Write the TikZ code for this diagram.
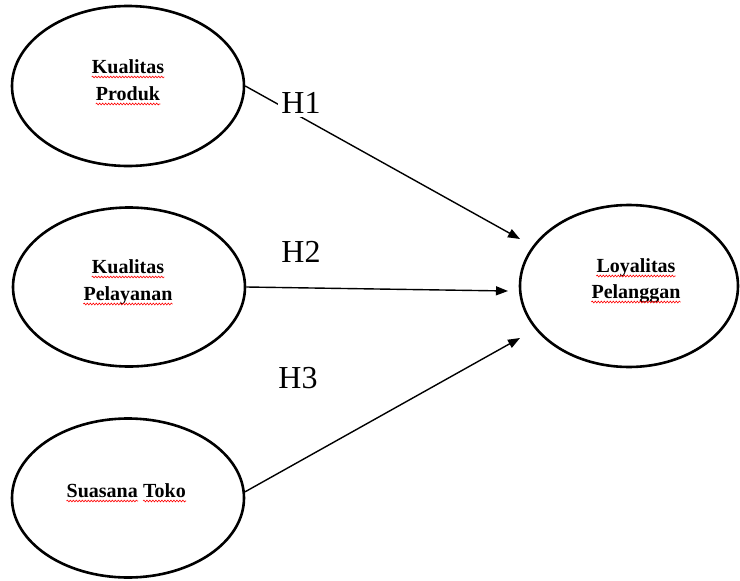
\documentclass[tikz,border=0pt]{standalone}
\usepackage{fontspec}
\setmainfont{Liberation Serif}
\usetikzlibrary{arrows.meta,shapes.geometric,decorations.pathmorphing}
\tikzset{
  construct/.style={draw=black, line width=2.6pt, ellipse, inner sep=0pt},
  lbl/.style={inner sep=0pt, anchor=base, font=\bfseries\fontsize{20}{27}\selectfont},
  squig/.style={draw=red, line width=0.6pt, decorate, decoration={snake, amplitude=0.9pt, segment length=3pt}},
  hyp/.style={fill=white, inner sep=3pt, font=\fontsize{32}{36}\selectfont},
  conn/.style={draw=black, line width=1.4pt, -{Triangle[length=12pt,width=9pt]}}
}
\newcommand\squigunder[1]{\draw[squig] ([yshift=-4pt]#1.base west) -- ([yshift=-4pt]#1.base east);}
\begin{document}
\begin{tikzpicture}[x=1pt,y=-1pt]
\useasboundingbox (0,0) rectangle (740,581);
% constructs
\node[construct, minimum width=232pt, minimum height=160pt] (P1) at (128,86) {};
\node[construct, minimum width=232pt, minimum height=159pt] (P2) at (129,287) {};
\node[construct, minimum width=232pt, minimum height=159pt] (P3) at (128,498) {};
\node[construct, minimum width=218pt, minimum height=162pt] (Y) at (629,286) {};
% texts
\node[lbl] (P1a) at (128,73) {Kualitas};
\node[lbl] (P1b) at (128,100) {Produk};
\node[lbl] (P2a) at (128,273) {Kualitas};
\node[lbl] (P2b) at (128,300) {Pelayanan};
\node[lbl, anchor=base east] (P3a) at (138,497) {Suasana};
\node[lbl, anchor=base west] (P3b) at ([xshift=5pt]P3a.base east) {Toko};
\node[lbl] (Ya) at (636,272) {Loyalitas};
\node[lbl] (Yb) at (636,298) {Pelanggan};
\squigunder{P1a}\squigunder{P1b}\squigunder{P2a}\squigunder{P2b}
\squigunder{P3a}\squigunder{P3b}\squigunder{Ya}\squigunder{Yb}
% arrow tips
\coordinate (t1) at (520,239);
\coordinate (t2) at (508,291);
\coordinate (t3) at (520,338);
% connectors
\draw[conn] (P1.east) -- (t1);
\draw[conn] (P2.east) -- (t2);
\draw[conn] (P3.3) -- (t3);
% hypothesis labels
\node[hyp] (H1) at (301,103) {H1};
\node[hyp] (H2) at (301,252) {H2};
\node[hyp] (H3) at (298,378) {H3};
\end{tikzpicture}
\end{document}
